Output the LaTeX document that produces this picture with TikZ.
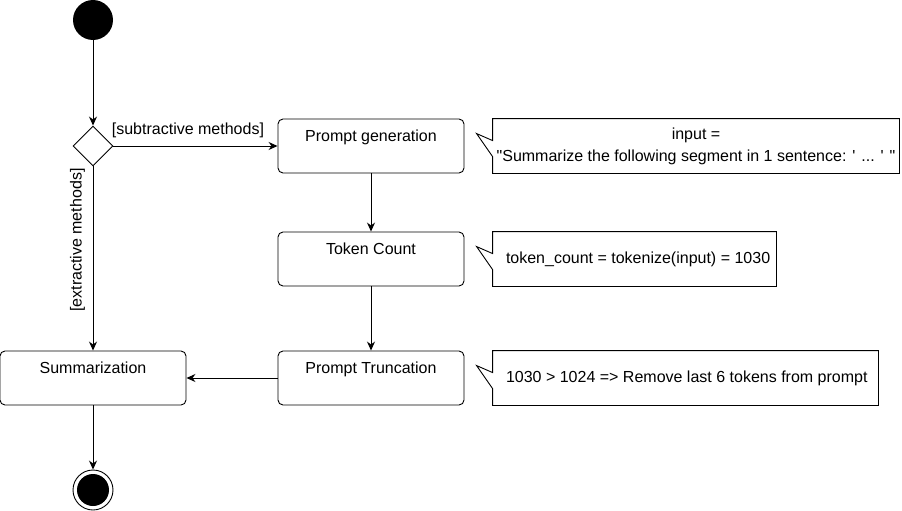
\documentclass[tikz,border=0pt]{standalone}
\usepackage{fontspec}
\newfontfamily\diagfont{Liberation Sans}
\usetikzlibrary{shapes.geometric,arrows.meta}

\tikzset{
  actbox/.style={draw, rounded corners=5pt, minimum width=186pt, minimum height=54pt, inner sep=0pt, text height=12pt, text depth=22pt},
  notebox/.style={inner xsep=13pt, inner ysep=0pt, minimum height=54pt},
  flow/.style={-{Stealth[length=9pt,width=8pt]}, line width=0.9pt},
}

\begin{document}
\begin{tikzpicture}[x=1pt, y=-1pt, line width=0.9pt, font=\diagfont\fontsize{16}{22}\selectfont]
        \useasboundingbox (0,0) rectangle (902,511);
        % start, decision, end
        \node[circle, fill=black, minimum size=40pt, inner sep=0] (start) at (93,20) {};
        \node[diamond, draw, minimum width=40pt, minimum height=40pt, inner sep=0, fill=white] (dec) at (93,146) {};
        \node[circle, draw, fill=white, minimum size=40pt, inner sep=0] (stop) at (93,490) {};
        \node[circle, fill=black, minimum size=32pt, inner sep=0] (stopdot) at (stop.center) {};

        % actions
        \node[actbox] (gen) at (371,146) {Prompt generation};
        \node[actbox] (count) at (371,259) {Token Count};
        \node[actbox] (trunc) at (371,378) {Prompt Truncation};
        \node[actbox] (summ) at (93,378) {Summarization};

        % notes, outline drawn by hand for the pointer
        \node[notebox, inner xsep=2pt, minimum width=406pt, align=center] (ninput) at (696,146) {input =\\"Summarize the following segment in 1 sentence: ' ... ' "};
        \node[notebox, minimum width=283pt] (ncount) at (634.5,259) {\makebox[257pt][l]{token\_count = tokenize(input) = 1030}};
        \node[notebox, minimum width=385pt] (ntrunc) at (685.5,378) {\makebox[359pt][l]{1030 > 1024 => Remove last 6 tokens from prompt}};
        \foreach \n in {ninput,ncount,ntrunc}
          \draw (\n.north west) -- ([yshift=-22pt]\n.north west) -- ++(-16,-7) -- ([yshift=-38pt]\n.north west)
                -- (\n.south west) -- (\n.south east) -- (\n.north east) -- cycle;

        % flow
        \draw[flow] (start) -- (dec);
        \draw[flow] (dec.east) -- (gen.west);
        \node[anchor=south west, inner sep=0] (sublbl) at ([xshift=-2pt,yshift=8pt]dec.east) {[subtractive methods]};
        \draw[flow] (dec.south) -- node[pos=0.4, rotate=90, anchor=south, inner sep=0, outer ysep=8pt] (extlbl) {[extractive methods]} (summ.north);
        \draw[flow] (gen) -- (count);
        \draw[flow] (count) -- (trunc);
        \draw[flow] (trunc) -- (summ);
        \draw[flow] (summ) -- (stop);
    \end{tikzpicture}
\end{document}
